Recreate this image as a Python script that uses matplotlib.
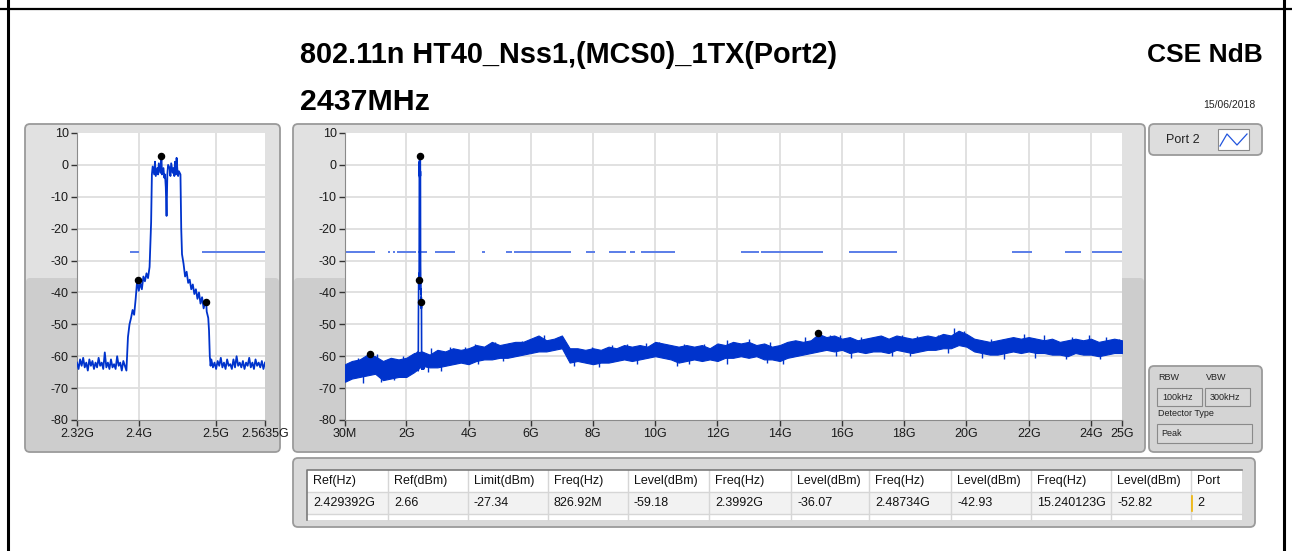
import numpy as np
import matplotlib
matplotlib.use("Agg")
import matplotlib.pyplot as plt
from matplotlib import font_manager
from matplotlib.patches import FancyBboxPatch, Rectangle

plt.rcParams['font.family'] = ['Liberation Sans', 'DejaVu Sans']
plt.rcParams['axes.unicode_minus'] = False

W, H = 1292, 551

# ---- data ----
limit_dbm = -27.34
limit_segs = [(0.03, 0.995), (1.42, 1.48), (1.58, 1.64), (1.71, 2.31), (2.389, 2.400),
              (2.482, 2.68), (2.93, 3.57), (4.43, 4.53), (5.20, 5.39), (5.47, 7.30),
              (7.77, 8.05), (8.52, 9.07), (9.20, 9.34), (9.54, 10.65), (12.74, 13.33),
              (13.41, 15.40), (16.22, 17.78), (21.46, 22.10), (23.17, 23.68), (24.05, 25.0)]

mark_f = [2.429392, 0.82692, 2.3992, 2.48734, 15.240123]
mark_db = [2.66, -59.18, -36.07, -42.93, -52.82]

# zoomed trace around the carrier (GHz / dBm)
floor_left = [-62, -64, -61, -63, -60.5, -63.5, -62, -64.5, -61, -63, -61.5, -64, -62, -63.5,
              -60.5, -63, -62, -64, -58.8, -63.5, -62, -64, -61, -63.5, -62.5, -64, -60, -63,
              -62, -64.5, -61.5, -63, -64.5]
edge_f = [2.386, 2.388, 2.390, 2.392, 2.394, 2.396, 2.398, 2.400, 2.402, 2.404, 2.406, 2.408,
          2.410, 2.412, 2.414, 2.416, 2.417,
          2.418, 2.420, 2.421, 2.422, 2.424, 2.425, 2.426, 2.428, 2.4294, 2.430, 2.432, 2.433,
          2.434, 2.435, 2.436, 2.437, 2.438, 2.440, 2.441, 2.442, 2.444, 2.445, 2.446, 2.447,
          2.448, 2.449, 2.450, 2.451, 2.452, 2.454,
          2.455, 2.456, 2.458, 2.460, 2.462, 2.464, 2.466, 2.468, 2.470, 2.472, 2.474, 2.476,
          2.478, 2.480, 2.482, 2.484, 2.486, 2.4873, 2.488, 2.490, 2.491, 2.492, 2.493]
edge_db = [-54, -50, -48, -45.5, -47, -42, -36, -39.5, -37, -39, -35, -36.5,
           -34, -35.5, -32, -18, -3,
           -0.5, -3, 1, -3.5, -1, -3, 0.5, -2.5, 2.66, -3, -1, -4,
           -3, -7, -16, -3, 0, -1, -3.5, 0.5, -2.5, -1, -3.5, 1,
           -3, 2.2, -1.5, -3.5, -2, -3,
           -20, -28, -31, -35, -33.5, -37, -36, -39, -37.5, -40.5, -39, -42,
           -40, -43.5, -41.5, -45, -43, -42.93, -46, -48, -52, -60, -63]
floor_right = [-61, -63.5, -62, -64, -61.5, -63, -60.5, -63.5, -62, -64, -61, -63, -62.5, -64,
               -61, -63.5, -60, -63, -62, -63.5, -61.5, -64, -62, -63, -60.5, -63.5, -62, -64,
               -61, -63, -62, -63.5, -61.5, -64, -62]

# full span trace, upper / lower edge of the noise band (GHz / dBm)
main_f = np.r_[0.03, np.arange(1, 101) * 0.25]
main_hi = [-62.5, -61.5, -61, -59.5, -60, -61.5, -60.5, -61, -60.5, -59,
           -58.5, -59.5, -58, -58.5, -57.5, -58, -57.5, -56.5, -57, -55.5,
           -56.5, -56, -55.5, -55.5, -54.5, -53.5, -55, -54.5, -53.5, -57.5,
           -57.5, -58, -57.5, -58, -57, -57.5, -56.5, -57, -56.5, -57,
           -55.5, -56, -56.5, -57, -56.5, -57, -56.5, -57.5, -56, -56.5,
           -55.5, -56, -55.5, -56.5, -56, -57, -56.5, -55.5, -55, -55.5,
           -55, -53, -54, -53.5, -54.5, -54, -55, -54.5, -54, -53.5,
           -54.5, -53.5, -54, -54.5, -54, -53.5, -54, -53, -53.5, -52,
           -53, -54.5, -55, -55.5, -55, -54.5, -54, -54.5, -54, -54.5,
           -55, -54.5, -55.5, -55, -54.5, -55, -54.5, -55.5, -55, -54.5,
           -55]
main_lo = [-68, -67, -66.5, -66, -65.5, -67.5, -67, -66.5, -66.5, -65,
           -63, -63.5, -63.5, -63, -62.5, -62, -62.5, -61.5, -61, -61,
           -60.5, -60.5, -60, -59.5, -59, -58.5, -58.5, -58, -57.5, -62,
           -61.5, -62, -62.5, -62, -62, -61.5, -61, -61.5, -61, -60.5,
           -60, -60.5, -61, -62, -61.5, -61, -61.5, -61, -61.5, -60.5,
           -60.5, -60, -60.5, -60, -61, -61, -61.5, -60.5, -60, -59.5,
           -59, -58.5, -58, -58.5, -58, -59, -58.5, -59, -58.5, -58.5,
           -59, -58, -58.5, -59, -58.5, -58, -58, -57.5, -57.5, -56.5,
           -57, -58.5, -59, -59.5, -59.5, -59, -58.5, -59, -58.5, -59,
           -59, -59.5, -59.5, -60, -59, -59.5, -59.5, -60, -59.5, -59,
           -59]

# single noise peaks sticking out of the band
peak_up_f = [0.45, 1.07, 1.9, 2.8, 3.4, 3.9, 4.21, 4.86, 5.3, 5.71, 6.1, 6.41, 6.89, 7.98,
             8.6, 9.09, 9.7, 10.11, 10.91, 11.56, 12.31, 13.0, 13.7, 14.24, 14.8, 15.63,
             15.95, 16.6, 17.3, 17.94, 18.42, 19.1, 19.6, 19.92, 20.8, 21.85, 22.5, 23.4,
             23.95, 24.5, 24.9]
peak_up_db = [-60.5, -59.2, -60, -57.5, -57, -57, -56.1, -55.6, -55.8, -55.3, -54.5, -53.5,
              -54, -57.1, -56.5, -56.1, -56, -55.6, -56.1, -56.3, -55, -54.5, -55.5, -55.6,
              -54, -53.2, -53.5, -54, -53.8, -53.5, -53.8, -53.5, -51.1, -52.2, -54.5, -53,
              -53.5, -54, -53.2, -54, -54.5]
peak_dn_f = [0.6, 1.2, 1.6, 2.7, 3.1, 4.3, 5.1, 7.4, 8.2, 9.4, 10.7, 11.1, 12.3, 13.6, 14.1,
             15.8, 16.3, 17.6, 18.2, 19.4, 20.5, 21.2, 22.2, 23.2, 24.3]
peak_dn_db = [-68.5, -68, -67.5, -65, -64.5, -62.5, -61.5, -63, -63.5, -62.5, -63, -62.5,
              -62.5, -62, -62.5, -60, -60.5, -60, -60, -59, -60.5, -61, -60.5, -61, -61]

main_ticks = [0.03, 2, 4, 6, 8, 10, 12, 14, 16, 18, 20, 22, 24, 25]
main_labels = ['30M', '2G', '4G', '6G', '8G', '10G', '12G', '14G', '16G', '18G', '20G',
               '22G', '24G', '25G']
zoom_ticks = [2.32, 2.4, 2.5, 2.5635]
zoom_labels = ['2.32G', '2.4G', '2.5G', '2.5635G']

headers = ['Ref(Hz)', 'Ref(dBm)', 'Limit(dBm)', 'Freq(Hz)', 'Level(dBm)', 'Freq(Hz)',
           'Level(dBm)', 'Freq(Hz)', 'Level(dBm)', 'Freq(Hz)', 'Level(dBm)', 'Port']
values = ['2.429392G', '2.66', '-27.34', '826.92M', '-59.18', '2.3992G', '-36.07',
          '2.48734G', '-42.93', '15.240123G', '-52.82', '2']
col_edges = [307, 388, 468, 548, 628, 709, 791, 869, 951, 1031, 1111, 1191, 1242]

zoom_f = np.r_[np.linspace(2.320, 2.384, len(floor_left)), edge_f,
               np.linspace(2.494, 2.5635, len(floor_right))]
zoom_db = np.r_[floor_left, edge_db, floor_right]

TRACE = '#0033cc'
LIMIT = '#5a7de8'

installed = {f.name for f in font_manager.fontManager.ttflist}
title_family = ['Liberation Sans Narrow'] if 'Liberation Sans Narrow' in installed \
    else ['Liberation Sans']

fig = plt.figure(figsize=(W / 100, H / 100), dpi=100)

# background layer in pixel coordinates
bg = fig.add_axes([0, 0, 1, 1], zorder=0)
bg.set_xlim(0, W)
bg.set_ylim(H, 0)
bg.axis('off')


def panel(x0, y0, x1, y1, fc='#e1e1e1', lower=None, split=278, ec='#9a9a9a', r=5):
    bg.add_patch(FancyBboxPatch((x0, y0), x1 - x0, y1 - y0,
                                boxstyle=f"round,pad=0,rounding_size={r}",
                                fc=fc, ec='none'))
    if lower is not None:
        bg.add_patch(FancyBboxPatch((x0 + 1, split), x1 - x0 - 2, y1 - split - 1,
                                    boxstyle=f"round,pad=0,rounding_size={r - 1}",
                                    fc=lower, ec='none'))
    bg.add_patch(FancyBboxPatch((x0, y0), x1 - x0, y1 - y0,
                                boxstyle=f"round,pad=0,rounding_size={r}",
                                fc='none', ec=ec, lw=1.3))


panel(25, 124, 280, 452, lower='#cdcdcd')
panel(293, 124, 1145, 452, lower='#cdcdcd')
panel(1149, 124, 1262, 155, fc='#dddddd')
panel(1149, 366, 1262, 452, fc='#d4d4d4')
panel(293, 458, 1255, 527, fc='#d9d9d9')

# outer frame
bg.plot([0, W], [9, 9], color='black', lw=1.6)
bg.plot([8, 8], [0, H], color='black', lw=2.2)
bg.plot([1284, 1284], [0, H], color='black', lw=2.2)

# titles
t1 = bg.text(300, 55, '802.11n HT40_Nss1,(MCS0)_1TX(Port2)', fontsize=18,
             fontweight='bold', va='center', ha='left', family=title_family)
t2 = bg.text(300, 102, '2437MHz', fontsize=18, fontweight='bold', va='center', ha='left',
             family=title_family)
t3 = bg.text(1263, 55, 'CSE NdB', fontsize=18, fontweight='bold', va='center', ha='right',
             family=title_family)
bg.text(1255, 105, '15/06/2018', fontsize=7.5, va='center', ha='right', color='#222222')

rend = fig.canvas.get_renderer()
for t, target in [(t1, 538), (t2, 130), (t3, 116)]:
    w = t.get_window_extent(rend).width
    t.set_fontsize(t.get_fontsize() * target / w)

# legend box
bg.text(1183, 140, 'Port 2', fontsize=9, ha='center', va='center', color='#222222')
bg.add_patch(Rectangle((1218, 129), 31, 21, fc='white', ec='#8a8a8a', lw=0.8))
bg.plot([1220, 1227, 1237, 1247], [146, 134, 145, 134], color='#2255dd', lw=0.9)

# RBW / VBW box
bg.text(1158, 378, 'RBW', fontsize=6.5, va='center', color='#222222')
bg.text(1206, 378, 'VBW', fontsize=6.5, va='center', color='#222222')
bg.add_patch(Rectangle((1157, 388), 45, 18, fc='#d8d8d8', ec='#8a8a8a', lw=0.8))
bg.add_patch(Rectangle((1205, 388), 45, 18, fc='#d8d8d8', ec='#8a8a8a', lw=0.8))
bg.text(1162, 397, '100kHz', fontsize=6.5, va='center', color='#222222')
bg.text(1210, 397, '300kHz', fontsize=6.5, va='center', color='#222222')
bg.text(1158, 413, 'Detector Type', fontsize=6.5, va='center', color='#222222')
bg.add_patch(Rectangle((1157, 424), 95, 19, fc='#d8d8d8', ec='#8a8a8a', lw=0.8))
bg.text(1161, 434, 'Peak', fontsize=6.5, va='center', color='#222222')

# table
bg.add_patch(Rectangle((307, 470), 935, 50, fc='white', ec='none'))
bg.add_patch(Rectangle((307, 492), 935, 22, fc='#f2f2f2', ec='none'))
for x in col_edges[1:-1]:
    bg.plot([x, x], [470, 520], color='#d6d6d6', lw=1)
for y in [492, 514]:
    bg.plot([307, 1242], [y, y], color='#d6d6d6', lw=1)
bg.plot([307, 307, 1242], [520, 470, 470], color='#7a7a7a', lw=1.2)
for i in range(len(headers)):
    bg.text(col_edges[i] + 6, 481, headers[i], fontsize=9, va='center', color='#111111')
    bg.text(col_edges[i] + 6, 503, values[i], fontsize=9, va='center', color='#111111')
bg.plot([1192, 1192], [496, 511], color='#f0b400', lw=1.2)


def style(ax, xticks, xlabels, gridx):
    ax.set_facecolor('white')
    ax.set_ylim(-80, 10)
    ax.set_yticks(range(-80, 11, 10))
    ax.set_xticks(xticks)
    ax.set_xticklabels(xlabels)
    for g in gridx:
        ax.axvline(g, color='#dedede', lw=1.3, zorder=0)
    for g in range(-70, 10, 10):
        ax.axhline(g, color='#dedede', lw=1.3, zorder=0)
    ax.tick_params(direction='out', length=4, width=1, color='#333333',
                   labelsize=9, labelcolor='#1a1a1a', pad=2)
    for s in ['top', 'right']:
        ax.spines[s].set_visible(False)
    for s in ['left', 'bottom']:
        ax.spines[s].set_color('#8a8a8a')


def pos(x0, y0, x1, y1):
    return [x0 / W, 1 - y1 / H, (x1 - x0) / W, (y1 - y0) / H]


# zoomed plot
axz = fig.add_axes(pos(77, 133, 265, 420), zorder=2)
axz.set_xlim(2.32, 2.5635)
style(axz, zoom_ticks, zoom_labels, [2.4, 2.5])
for a, b in limit_segs:
    axz.plot([a, b], [limit_dbm, limit_dbm], color=LIMIT, lw=1.4, solid_capstyle='butt', zorder=2)
axz.plot(zoom_f, zoom_db, color=TRACE, lw=1.3, zorder=3)
axz.plot(mark_f, mark_db, 'o', color='black', ms=4.4, zorder=5)

# full span plot
axm = fig.add_axes(pos(345, 133, 1122, 420), zorder=2)
axm.set_xlim(0.03, 25)
style(axm, main_ticks, main_labels, main_ticks[1:-1])
for a, b in limit_segs:
    axm.plot([a, b], [limit_dbm, limit_dbm], color=LIMIT, lw=1.4, solid_capstyle='butt', zorder=2)
axm.fill_between(main_f, main_lo, main_hi, color=TRACE, lw=0.8, zorder=3)
axm.vlines(peak_up_f, np.array(peak_up_db) - 3, peak_up_db, color=TRACE, lw=1.0, zorder=3)
axm.vlines(peak_dn_f, peak_dn_db, np.array(peak_dn_db) + 3, color=TRACE, lw=1.0, zorder=3)
axm.plot(zoom_f, zoom_db, color=TRACE, lw=1.2, zorder=3)
axm.plot(mark_f, mark_db, 'o', color='black', ms=4.4, zorder=5)

fig.savefig('out.png', dpi=100)
